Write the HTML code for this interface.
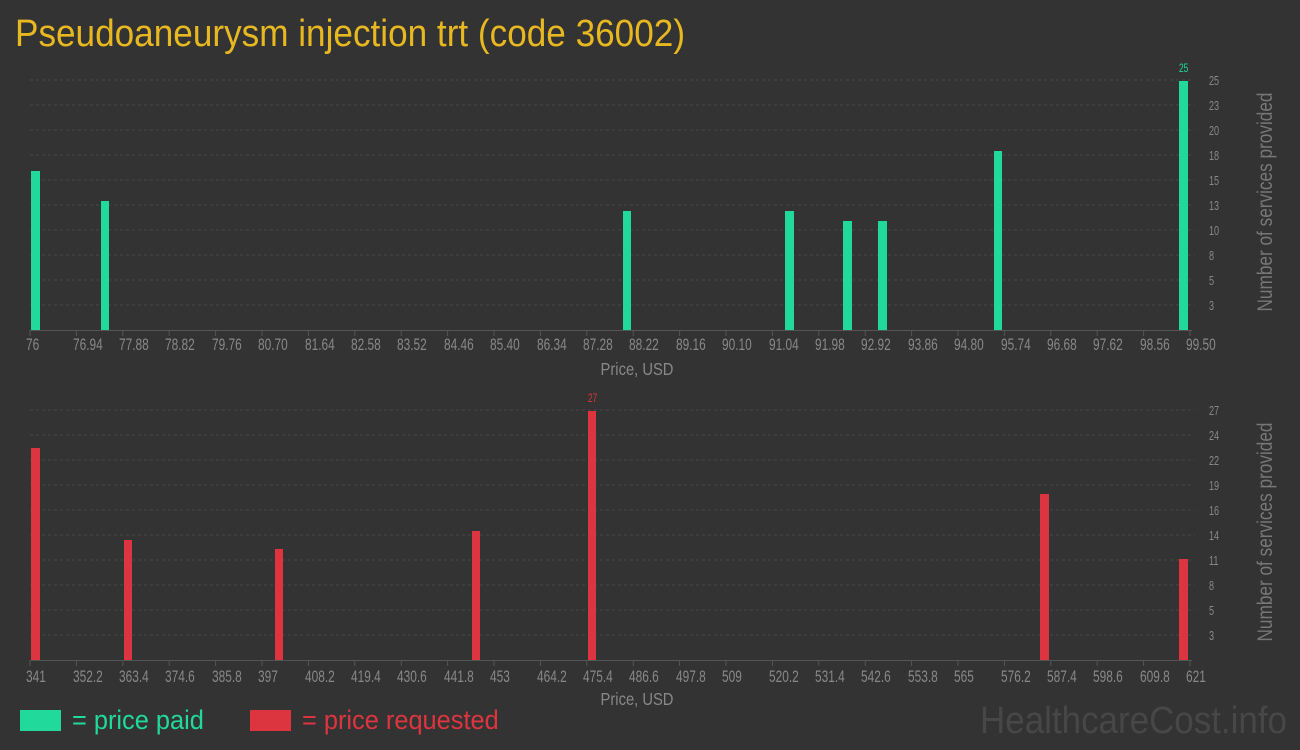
<!DOCTYPE html>
<html><head><meta charset="utf-8"><style>
html,body{margin:0;padding:0;background:#333;}
svg{display:block;font-family:"Liberation Sans",sans-serif;}
.t{fill:#888;font-size:17px;}
.y text{fill:#888;font-size:13px;}
.g{stroke:#474747;stroke-width:1;stroke-dasharray:3,3;}
</style></head><body>
<svg width="1300" height="750" viewBox="0 0 1300 750">
<rect width="1300" height="750" fill="#333"/>
<text transform="translate(15,46) scale(0.925,1)" fill="#e8b820" font-size="38">Pseudoaneurysm injection trt (code 36002)</text>

<g class="g">
<line x1="30" x2="1195" y1="80" y2="80"/><line x1="30" x2="1195" y1="105" y2="105"/><line x1="30" x2="1195" y1="130" y2="130"/><line x1="30" x2="1195" y1="155" y2="155"/><line x1="30" x2="1195" y1="180" y2="180"/><line x1="30" x2="1195" y1="205" y2="205"/><line x1="30" x2="1195" y1="230" y2="230"/><line x1="30" x2="1195" y1="255" y2="255"/><line x1="30" x2="1195" y1="280" y2="280"/><line x1="30" x2="1195" y1="305" y2="305"/>
</g>
<g class="y">
<text transform="translate(1209,85) scale(0.7,1)">25</text><text transform="translate(1209,110) scale(0.7,1)">23</text><text transform="translate(1209,135) scale(0.7,1)">20</text><text transform="translate(1209,160) scale(0.7,1)">18</text><text transform="translate(1209,185) scale(0.7,1)">15</text><text transform="translate(1209,210) scale(0.7,1)">13</text><text transform="translate(1209,235) scale(0.7,1)">10</text><text transform="translate(1209,260) scale(0.7,1)">8</text><text transform="translate(1209,285) scale(0.7,1)">5</text><text transform="translate(1209,310) scale(0.7,1)">3</text>
</g>
<line x1="30" x2="1192" y1="330.5" y2="330.5" stroke="#555"/>
<g fill="#20d99a">
<rect x="31" y="171" width="9" height="159"/>
<rect x="101" y="201" width="8" height="129"/>
<rect x="623" y="211" width="8" height="119"/>
<rect x="785" y="211" width="9" height="119"/>
<rect x="843" y="221" width="9" height="109"/>
<rect x="878" y="221" width="9" height="109"/>
<rect x="994" y="151" width="8" height="179"/>
<rect x="1179" y="81" width="9" height="249"/>
</g>
<text transform="translate(1179,72) scale(0.7,1)" fill="#20d99a" font-size="12">25</text>
<g stroke="#555">
<line x1="30" x2="30" y1="330" y2="336"/><line x1="76.4" x2="76.4" y1="330" y2="336"/><line x1="122.8" x2="122.8" y1="330" y2="336"/><line x1="169.2" x2="169.2" y1="330" y2="336"/><line x1="215.6" x2="215.6" y1="330" y2="336"/><line x1="262" x2="262" y1="330" y2="336"/><line x1="308.4" x2="308.4" y1="330" y2="336"/><line x1="354.8" x2="354.8" y1="330" y2="336"/><line x1="401.2" x2="401.2" y1="330" y2="336"/><line x1="447.6" x2="447.6" y1="330" y2="336"/><line x1="494" x2="494" y1="330" y2="336"/><line x1="540.4" x2="540.4" y1="330" y2="336"/><line x1="586.8" x2="586.8" y1="330" y2="336"/><line x1="633.2" x2="633.2" y1="330" y2="336"/><line x1="679.6" x2="679.6" y1="330" y2="336"/><line x1="726" x2="726" y1="330" y2="336"/><line x1="772.4" x2="772.4" y1="330" y2="336"/><line x1="818.8" x2="818.8" y1="330" y2="336"/><line x1="865.2" x2="865.2" y1="330" y2="336"/><line x1="911.6" x2="911.6" y1="330" y2="336"/><line x1="958" x2="958" y1="330" y2="336"/><line x1="1004.4" x2="1004.4" y1="330" y2="336"/><line x1="1050.8" x2="1050.8" y1="330" y2="336"/><line x1="1097.2" x2="1097.2" y1="330" y2="336"/><line x1="1143.6" x2="1143.6" y1="330" y2="336"/><line x1="1190" x2="1190" y1="330" y2="336"/>
</g>
<g class="t">
<text transform="translate(26,350) scale(0.7,1)">76</text>
<text transform="translate(73,350) scale(0.7,1)">76.94</text>
<text transform="translate(119,350) scale(0.7,1)">77.88</text>
<text transform="translate(165,350) scale(0.7,1)">78.82</text>
<text transform="translate(212,350) scale(0.7,1)">79.76</text>
<text transform="translate(258,350) scale(0.7,1)">80.70</text>
<text transform="translate(305,350) scale(0.7,1)">81.64</text>
<text transform="translate(351,350) scale(0.7,1)">82.58</text>
<text transform="translate(397,350) scale(0.7,1)">83.52</text>
<text transform="translate(444,350) scale(0.7,1)">84.46</text>
<text transform="translate(490,350) scale(0.7,1)">85.40</text>
<text transform="translate(537,350) scale(0.7,1)">86.34</text>
<text transform="translate(583,350) scale(0.7,1)">87.28</text>
<text transform="translate(629,350) scale(0.7,1)">88.22</text>
<text transform="translate(676,350) scale(0.7,1)">89.16</text>
<text transform="translate(722,350) scale(0.7,1)">90.10</text>
<text transform="translate(769,350) scale(0.7,1)">91.04</text>
<text transform="translate(815,350) scale(0.7,1)">91.98</text>
<text transform="translate(861,350) scale(0.7,1)">92.92</text>
<text transform="translate(908,350) scale(0.7,1)">93.86</text>
<text transform="translate(954,350) scale(0.7,1)">94.80</text>
<text transform="translate(1001,350) scale(0.7,1)">95.74</text>
<text transform="translate(1047,350) scale(0.7,1)">96.68</text>
<text transform="translate(1093,350) scale(0.7,1)">97.62</text>
<text transform="translate(1140,350) scale(0.7,1)">98.56</text>
<text transform="translate(1186,350) scale(0.7,1)">99.50</text>
</g>
<text transform="translate(637,375) scale(0.82,1)" text-anchor="middle" fill="#888" font-size="18">Price, USD</text>
<text transform="translate(1272,202) rotate(-90) scale(0.82,1)" text-anchor="middle" fill="#777" font-size="21">Number of services provided</text>

<g class="g">
<line x1="30" x2="1195" y1="410" y2="410"/><line x1="30" x2="1195" y1="435" y2="435"/><line x1="30" x2="1195" y1="460" y2="460"/><line x1="30" x2="1195" y1="485" y2="485"/><line x1="30" x2="1195" y1="510" y2="510"/><line x1="30" x2="1195" y1="535" y2="535"/><line x1="30" x2="1195" y1="560" y2="560"/><line x1="30" x2="1195" y1="585" y2="585"/><line x1="30" x2="1195" y1="610" y2="610"/><line x1="30" x2="1195" y1="635" y2="635"/>
</g>
<g class="y">
<text transform="translate(1209,415) scale(0.7,1)">27</text><text transform="translate(1209,440) scale(0.7,1)">24</text><text transform="translate(1209,465) scale(0.7,1)">22</text><text transform="translate(1209,490) scale(0.7,1)">19</text><text transform="translate(1209,515) scale(0.7,1)">16</text><text transform="translate(1209,540) scale(0.7,1)">14</text><text transform="translate(1209,565) scale(0.7,1)">11</text><text transform="translate(1209,590) scale(0.7,1)">8</text><text transform="translate(1209,615) scale(0.7,1)">5</text><text transform="translate(1209,640) scale(0.7,1)">3</text>
</g>
<line x1="30" x2="1192" y1="660.5" y2="660.5" stroke="#555"/>
<g fill="#dc3540">
<rect x="31" y="448" width="9" height="212"/>
<rect x="124" y="540" width="8" height="120"/>
<rect x="275" y="549" width="8" height="111"/>
<rect x="472" y="531" width="8" height="129"/>
<rect x="588" y="411" width="8" height="249"/>
<rect x="1040" y="494" width="9" height="166"/>
<rect x="1179" y="559" width="9" height="101"/>
</g>
<text transform="translate(588,402) scale(0.7,1)" fill="#dc3540" font-size="12">27</text>
<g stroke="#555">
<line x1="30" x2="30" y1="660" y2="666"/><line x1="76.4" x2="76.4" y1="660" y2="666"/><line x1="122.8" x2="122.8" y1="660" y2="666"/><line x1="169.2" x2="169.2" y1="660" y2="666"/><line x1="215.6" x2="215.6" y1="660" y2="666"/><line x1="262" x2="262" y1="660" y2="666"/><line x1="308.4" x2="308.4" y1="660" y2="666"/><line x1="354.8" x2="354.8" y1="660" y2="666"/><line x1="401.2" x2="401.2" y1="660" y2="666"/><line x1="447.6" x2="447.6" y1="660" y2="666"/><line x1="494" x2="494" y1="660" y2="666"/><line x1="540.4" x2="540.4" y1="660" y2="666"/><line x1="586.8" x2="586.8" y1="660" y2="666"/><line x1="633.2" x2="633.2" y1="660" y2="666"/><line x1="679.6" x2="679.6" y1="660" y2="666"/><line x1="726" x2="726" y1="660" y2="666"/><line x1="772.4" x2="772.4" y1="660" y2="666"/><line x1="818.8" x2="818.8" y1="660" y2="666"/><line x1="865.2" x2="865.2" y1="660" y2="666"/><line x1="911.6" x2="911.6" y1="660" y2="666"/><line x1="958" x2="958" y1="660" y2="666"/><line x1="1004.4" x2="1004.4" y1="660" y2="666"/><line x1="1050.8" x2="1050.8" y1="660" y2="666"/><line x1="1097.2" x2="1097.2" y1="660" y2="666"/><line x1="1143.6" x2="1143.6" y1="660" y2="666"/><line x1="1190" x2="1190" y1="660" y2="666"/>
</g>
<g class="t">
<text transform="translate(26,682) scale(0.7,1)">341</text>
<text transform="translate(73,682) scale(0.7,1)">352.2</text>
<text transform="translate(119,682) scale(0.7,1)">363.4</text>
<text transform="translate(165,682) scale(0.7,1)">374.6</text>
<text transform="translate(212,682) scale(0.7,1)">385.8</text>
<text transform="translate(258,682) scale(0.7,1)">397</text>
<text transform="translate(305,682) scale(0.7,1)">408.2</text>
<text transform="translate(351,682) scale(0.7,1)">419.4</text>
<text transform="translate(397,682) scale(0.7,1)">430.6</text>
<text transform="translate(444,682) scale(0.7,1)">441.8</text>
<text transform="translate(490,682) scale(0.7,1)">453</text>
<text transform="translate(537,682) scale(0.7,1)">464.2</text>
<text transform="translate(583,682) scale(0.7,1)">475.4</text>
<text transform="translate(629,682) scale(0.7,1)">486.6</text>
<text transform="translate(676,682) scale(0.7,1)">497.8</text>
<text transform="translate(722,682) scale(0.7,1)">509</text>
<text transform="translate(769,682) scale(0.7,1)">520.2</text>
<text transform="translate(815,682) scale(0.7,1)">531.4</text>
<text transform="translate(861,682) scale(0.7,1)">542.6</text>
<text transform="translate(908,682) scale(0.7,1)">553.8</text>
<text transform="translate(954,682) scale(0.7,1)">565</text>
<text transform="translate(1001,682) scale(0.7,1)">576.2</text>
<text transform="translate(1047,682) scale(0.7,1)">587.4</text>
<text transform="translate(1093,682) scale(0.7,1)">598.6</text>
<text transform="translate(1140,682) scale(0.7,1)">609.8</text>
<text transform="translate(1186,682) scale(0.7,1)">621</text>
</g>
<text transform="translate(637,705) scale(0.82,1)" text-anchor="middle" fill="#888" font-size="18">Price, USD</text>
<text transform="translate(1272,532) rotate(-90) scale(0.82,1)" text-anchor="middle" fill="#777" font-size="21">Number of services provided</text>

<rect x="20" y="710" width="41" height="21" fill="#20d99a"/>
<text transform="translate(72,729) scale(0.94,1)" fill="#20d99a" font-size="27">= price paid</text>
<rect x="250" y="710" width="41" height="21" fill="#dc3540"/>
<text transform="translate(302,729) scale(0.94,1)" fill="#dc3540" font-size="27">= price requested</text>
<text transform="translate(1287,733) scale(0.92,1)" text-anchor="end" fill="#474747" font-size="38">HealthcareCost.info</text>
</svg>
</body></html>
